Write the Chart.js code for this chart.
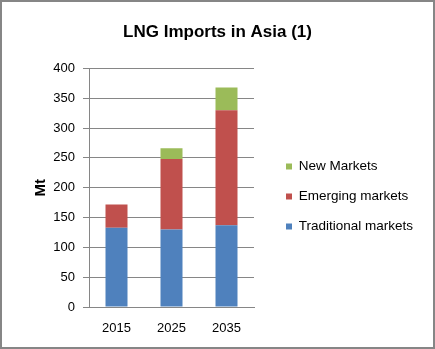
<!DOCTYPE html>
<html>
<head>
<meta charset="utf-8">
<script src="https://cdn.jsdelivr.net/npm/chart.js@4"></script>
<style>
  html, body { margin: 0; padding: 0; background: #fff; }
  #frame {
    width: 435px;
    height: 349px;
    box-sizing: border-box;
    border: 2px solid #868686;
    background: #fff;
  }
</style>
</head>
<body>
<div id="frame"><canvas id="lngChart"></canvas></div>
<script>
const years = ["2015", "2025", "2035"];
const traditional = [133, 130, 137];
const emerging = [39, 118, 193];
const newMarkets = [0, 18, 38];
const yTicks = [0, 50, 100, 150, 200, 250, 300, 350, 400];

const FONT = "'Liberation Sans', Arial, sans-serif";
const GRID = "#868686";
const LEGEND_WIDTH = 179;

// reserve a fixed-width column for the legend, then sit it a little
// right of the plot edge and slightly below centre
const legendOffset = {
  id: "legendOffset",
  beforeLayout(chart) {
    const lg = chart.legend;
    if (!lg || lg._fixedWidth) return;
    const fit = lg.fit.bind(lg);
    lg.fit = function () {
      fit();
      this.width = LEGEND_WIDTH;
    };
    lg._fixedWidth = true;
  },
  afterLayout(chart) {
    const lg = chart.legend;
    if (!lg) return;
    const dx = chart.chartArea.right + 15.5 - lg.left;
    const dy = 22;
    lg.left += dx; lg.right += dx;
    lg.top += dy; lg.bottom += dy;
  }
};

new Chart(document.getElementById("lngChart"), {
  type: "bar",
  data: {
    labels: years,
    datasets: [
      { label: "Traditional markets", data: traditional, backgroundColor: "#4F81BD" },
      { label: "Emerging markets", data: emerging, backgroundColor: "#C0504D" },
      { label: "New Markets", data: newMarkets, backgroundColor: "#9BBB59" }
    ]
  },
  options: {
    responsive: true,
    maintainAspectRatio: false,
    animation: false,
    datasets: {
      bar: { barPercentage: 0.4, categoryPercentage: 1 }
    },
    plugins: {
      title: {
        display: true,
        text: "LNG Imports in Asia (1)",
        color: "#000",
        font: { family: FONT, size: 17, weight: "bold" },
        padding: { top: 20, bottom: 26 }
      },
      legend: {
        position: "right",
        reverse: true,
        labels: {
          color: "#000",
          font: { family: FONT, size: 13.5 },
          boxWidth: 6,
          boxHeight: 6,
          padding: 16.5
        }
      },
      tooltip: { enabled: false }
    },
    scales: {
      x: {
        stacked: true,
        grid: { display: false, drawTicks: false },
        border: { display: true, color: GRID, width: 1 },
        ticks: { color: "#000", font: { family: FONT, size: 13 }, padding: 14 },
        afterFit(scale) { scale.height = 40; }
      },
      y: {
        stacked: true,
        min: 0,
        max: 400,
        afterBuildTicks(scale) {
          scale.ticks = yTicks.map(v => ({ value: v }));
        },
        grid: { color: GRID, lineWidth: 1, tickLength: 6 },
        border: { display: true, color: GRID, width: 1 },
        ticks: { color: "#000", font: { family: FONT, size: 13 }, padding: 8 },
        title: {
          display: true,
          text: "Mt",
          color: "#000",
          font: { family: FONT, size: 15, weight: "bold" },
          padding: { top: 30, bottom: 0 }
        },
        afterFit(scale) { scale.width = 87; }
      }
    }
  },
  plugins: [legendOffset]
});
</script>
</body>
</html>
